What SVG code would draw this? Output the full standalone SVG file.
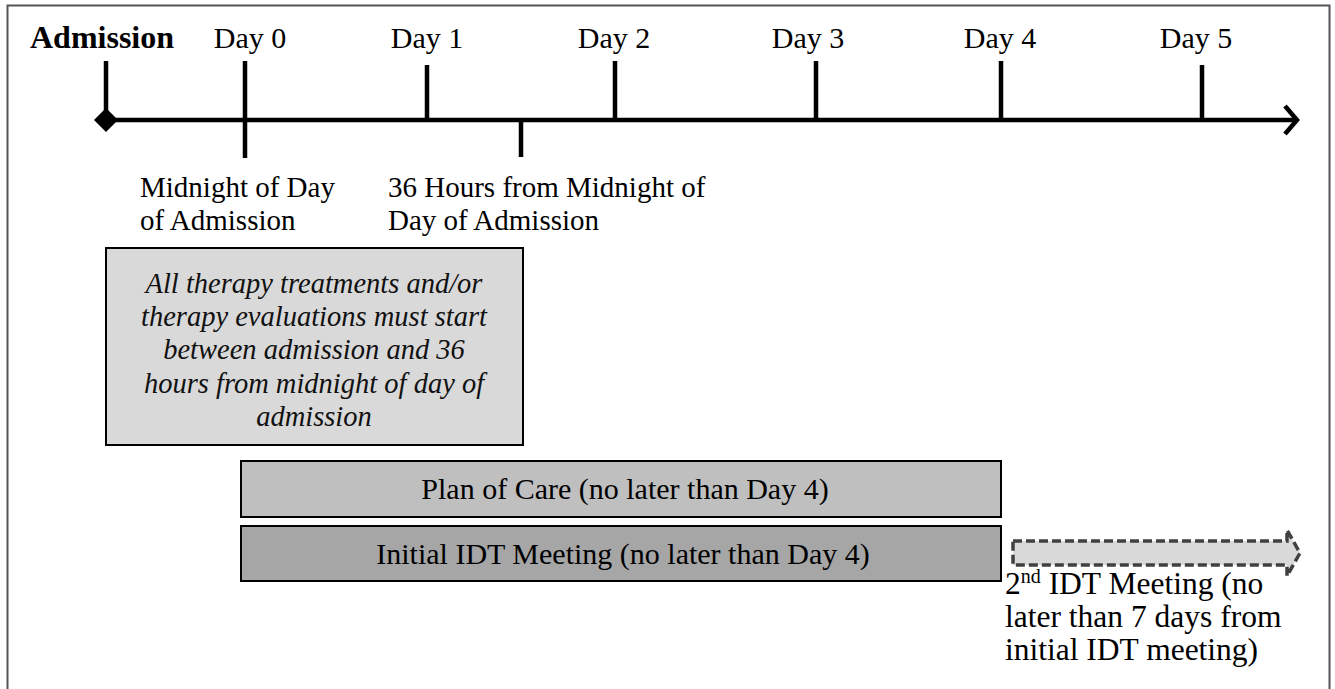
<svg xmlns="http://www.w3.org/2000/svg" width="1335" height="689" viewBox="0 0 1335 689">
<defs>
<style>
.t{font-family:"Liberation Serif","Times New Roman",serif;font-size:29px;fill:#000}
.d{font-size:30px}
.c{text-anchor:middle}
.r{font-size:31.5px}
.adm{font-size:32px;font-weight:bold}
.sup{font-size:20px}
.it{font-family:"Liberation Serif","Times New Roman",serif;font-style:italic;font-size:28.5px;fill:#111;text-anchor:middle}
.tick{stroke:#000;stroke-width:4.5;fill:none}
.bar{stroke:#000;stroke-width:2}
</style>
</defs>
<rect x="0" y="0" width="1335" height="689" fill="#fff"/>
<rect x="7.5" y="5.5" width="1322" height="700" fill="none" stroke="#555" stroke-width="2"/>

<g id="connectors">
<line class="tick" x1="106" y1="120" x2="1296" y2="120"/>
<polyline class="tick" points="1285,106 1297,120 1285,134" stroke-linejoin="miter"/>
<polygon points="106,108 118,120 106,132 94,120" fill="#000"/>
<line class="tick" x1="106" y1="61" x2="106" y2="120"/>
<line class="tick" x1="245" y1="61" x2="245" y2="158"/>
<line class="tick" x1="427" y1="65" x2="427" y2="122"/>
<line class="tick" x1="521" y1="120" x2="521" y2="157"/>
<line class="tick" x1="615" y1="61" x2="615" y2="120"/>
<line class="tick" x1="816" y1="61" x2="816" y2="120"/>
<line class="tick" x1="1001" y1="61" x2="1001" y2="120"/>
<line class="tick" x1="1202" y1="65" x2="1202" y2="122"/>
</g>

<g id="labels">
<text class="t adm" x="30" y="48">Admission</text>
<text class="t d c" x="250" y="48">Day 0</text>
<text class="t d c" x="427" y="48">Day 1</text>
<text class="t d c" x="614" y="48">Day 2</text>
<text class="t d c" x="808" y="48">Day 3</text>
<text class="t d c" x="1000" y="48">Day 4</text>
<text class="t d c" x="1196" y="48">Day 5</text>
<text class="t" x="140" y="197">Midnight of Day</text>
<text class="t" x="140" y="230">of Admission</text>
<text class="t" x="388" y="197">36 Hours from Midnight of</text>
<text class="t" x="388" y="230">Day of Admission</text>
</g>

<g id="therapy-box">
<rect x="106" y="248" width="417" height="197" fill="#d9d9d9" class="bar"/>
<text class="it" x="314" y="293">All therapy treatments and/or</text>
<text class="it" x="314" y="326">therapy evaluations must start</text>
<text class="it" x="314" y="359">between admission and 36</text>
<text class="it" x="314" y="393">hours from midnight of day of</text>
<text class="it" x="314" y="426">admission</text>
</g>

<g id="plan-of-care">
<rect x="241" y="461" width="760" height="56" fill="#bfbfbf" class="bar"/>
<text class="t d c" x="625" y="499">Plan of Care (no later than Day 4)</text>
</g>

<g id="initial-idt">
<rect x="241" y="526" width="760" height="55" fill="#a6a6a6" class="bar"/>
<text class="t d c" x="623" y="564">Initial IDT Meeting (no later than Day 4)</text>
</g>

<g id="second-idt">
<polygon points="1013,541 1287,541 1287,530 1300,553 1287,576 1287,565 1013,565" fill="#d9d9d9" stroke="#404040" stroke-width="3.5" stroke-dasharray="9,4"/>
<text class="t r" x="1005" y="594">2<tspan class="sup" dy="-11">nd</tspan><tspan dy="11"> IDT Meeting (no</tspan></text>
<text class="t r" x="1005" y="627">later than 7 days from</text>
<text class="t r" x="1005" y="660">initial IDT meeting)</text>
</g>
</svg>
